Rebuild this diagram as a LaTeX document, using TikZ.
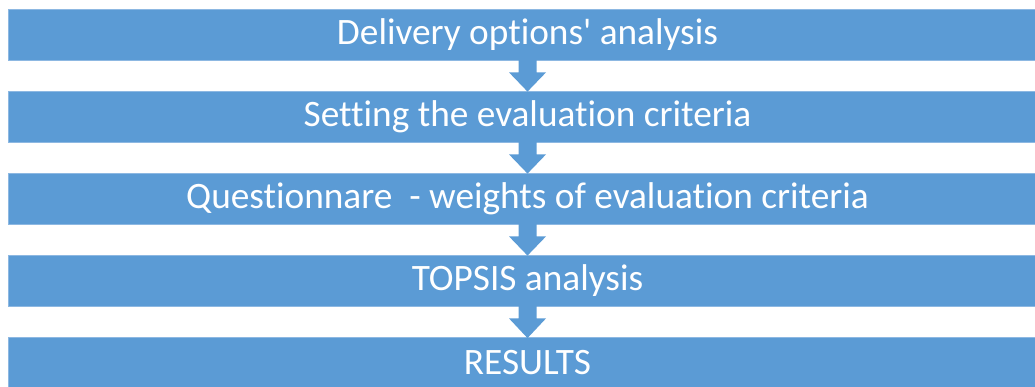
\documentclass[tikz,border=0pt]{standalone}
\usepackage{fontspec}
\setmainfont{Carlito}[Ligatures={NoCommon}]
\usetikzlibrary{calc}
\definecolor{stepblue}{HTML}{5B9BD5}
\definecolor{stepedge}{HTML}{8DB8E2}
\begin{document}
\begin{tikzpicture}[x=1pt,y=1pt,
  stepbox/.style={rectangle, fill=stepblue, draw=stepedge, line width=0.8pt,
    minimum width=1039pt, minimum height=51pt, inner sep=0pt,
    text=white, font=\fontsize{37.3}{40}\selectfont},
  flowarrow/.style={fill=stepblue}]
\useasboundingbox (0,0) rectangle (1035,-387);
\clip (0,0) rectangle (1035,-387);
% the five stages, top to bottom
\node[stepbox] (s1) at (527.5,-34.5) {Delivery options\textquotesingle{} analysis};
\node[stepbox] (s2) at (527.5,-116.5) {Setting the evaluation criteria};
\node[stepbox] (s3) at (527.5,-198.5) {Questionnare \ - weights of evaluation criteria};
\node[stepbox] (s4) at (527.5,-280.5) {TOPSIS analysis};
\node[stepbox] (s5) at (527.5,-363) {RESULTS};
% block arrows linking consecutive stages
\foreach \a/\b in {s1/s2,s2/s3,s3/s4,s4/s5}{
  \fill[flowarrow] ($(\a.south)+(-9,1)$) -- ($(\a.south)+(-9,-12)$)
    -- ($(\a.south)+(-18.5,-12)$) -- ($(\b.north)+(0,-1)$)
    -- ($(\a.south)+(18.5,-12)$) -- ($(\a.south)+(9,-12)$)
    -- ($(\a.south)+(9,1)$) -- cycle;
}
\end{tikzpicture}
\end{document}
